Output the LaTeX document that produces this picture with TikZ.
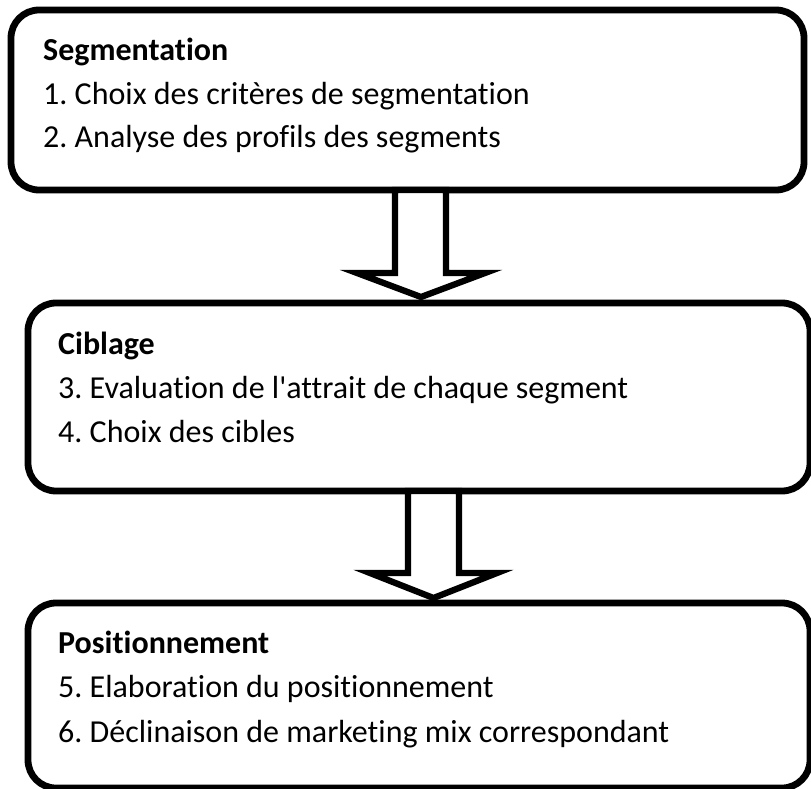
\documentclass[tikz,border=0pt]{standalone}
\usepackage{fontspec}
\setmainfont[Ligatures=NoCommon]{Carlito}
\begin{document}
\frenchspacing
\begin{tikzpicture}[x=1pt,y=-1pt,
  stagebox/.style={draw=black, line width=6.8pt, rounded corners=28pt, inner sep=0pt, minimum width=#1},
  blockarrow/.style={draw=black, fill=white, line width=6.3pt, line join=miter},
  head/.style={anchor=base west, inner sep=0pt, font=\fontsize{32}{38}\selectfont\bfseries},
  item/.style={anchor=base west, inner sep=0pt, font=\fontsize{32}{38}\selectfont}]
  \useasboundingbox (0,0) rectangle (811,789);
  \clip (0,0) rectangle (811,789);

  % stage boxes
  \node[stagebox=793pt, minimum height=180pt] (b1) at (407.5,100) {};
  \node[stagebox=782pt, minimum height=188pt] (b2) at (419,397) {};
  \node[stagebox=782pt, minimum height=185pt] (b3) at (419,695.5) {};

  % hollow block arrows between the stages
  \draw[blockarrow] (395,190) -- (395,273) -- (357,273) -- (421,297)
        -- (485,273) -- (446,273) -- (446,190) -- cycle;
  \draw[blockarrow] (408,491) -- (408,573) -- (370,573) -- (433.5,598)
        -- (497,573) -- (459,573) -- (459,491) -- cycle;

  % texts
  \node[head] (s1) at (43,61) {Segmentation};
  \node[item] (s1a) at (43,105) {1. Choix des critères de segmentation};
  \node[item] (s1b) at (43,148) {2. Analyse des profils des segments};

  \node[head] (s2) at (58,354) {Ciblage};
  \node[item] (s2a) at (58,398) {3. Evaluation de l\textquotesingle attrait de chaque segment};
  \node[item] (s2b) at (58,442) {4. Choix des cibles};

  \node[head] (s3) at (58,653) {Positionnement};
  \node[item] (s3a) at (58,697) {5. Elaboration du positionnement};
  \node[item] (s3b) at (58,742) {6. Déclinaison de marketing mix correspondant};
\end{tikzpicture}
\end{document}
